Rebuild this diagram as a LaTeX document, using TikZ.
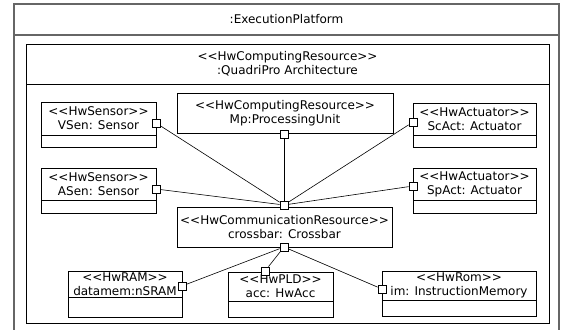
\documentclass[tikz,border=0pt]{standalone}
\usepackage{fontspec}
\setmainfont{DejaVu Sans}[Ligatures=TeXOff]
\usetikzlibrary{positioning}

\begin{document}
\begin{tikzpicture}[x=1pt, y=-1pt, node distance=0pt,
    part/.style={draw, line width=0.8pt, align=center, inner sep=0pt, outer sep=0pt,
        font=\fontsize{12}{14}\selectfont},
    slot/.style={draw, line width=0.8pt, inner sep=0pt, outer sep=0pt},
    port/.style={draw, fill=white, line width=0.8pt, minimum size=8pt, inner sep=0pt},
    wire/.style={line width=0.6pt}]

    \useasboundingbox (0,0) rectangle (561,329);

    % Frames
    \node[part, draw=black!60, line width=1.1pt, minimum width=545pt, minimum height=31pt,
        anchor=north west] (plat) at (14,4) {:ExecutionPlatform};
    \node[slot, draw=black!60, line width=1.1pt, minimum width=545pt, minimum height=320pt,
        below=of plat] (platb) {};
    \node[part, minimum width=523pt, minimum height=40pt, anchor=north west] (quadri) at (26,44)
        {<<HwComputingResource>>\\:QuadriPro Architecture};
    \node[slot, minimum width=523pt, minimum height=239pt, below=of quadri] (quadrib) {};

    % Nodes
    \node[part, minimum width=115pt, minimum height=33pt, anchor=north west] (vsen) at (41,102)
        {<<HwSensor>>\\VSen: Sensor};
    \node[slot, minimum width=115pt, minimum height=12pt, below=of vsen] (vsenb) {};

    \node[part, minimum width=115pt, minimum height=32pt, anchor=north west] (asen) at (41,168)
        {<<HwSensor>>\\ASen: Sensor};
    \node[slot, minimum width=115pt, minimum height=13pt, below=of asen] (asenb) {};

    \node[part, minimum width=123pt, minimum height=32pt, anchor=north west] (scact) at (413,103)
        {<<HwActuator>>\\ScAct: Actuator};
    \node[slot, minimum width=123pt, minimum height=12pt, below=of scact] (scactb) {};

    \node[part, minimum width=123pt, minimum height=32pt, anchor=north west] (spact) at (413,168)
        {<<HwActuator>>\\SpAct: Actuator};
    \node[slot, minimum width=123pt, minimum height=13pt, below=of spact] (spactb) {};

    \node[part, minimum width=216pt, minimum height=40pt, anchor=north west] (mp) at (177,93)
        {<<HwComputingResource>>\\Mp:ProcessingUnit};

    \node[part, minimum width=215pt, minimum height=40pt, anchor=north west] (crossbar) at (177,207)
        {<<HwCommunicationResource>>\\crossbar: Crossbar};

    \node[part, minimum width=114pt, minimum height=26pt, anchor=north west] (datamem) at (68,271)
        {<<HwRAM>>\\datamem:nSRAM};
    \node[slot, minimum width=114pt, minimum height=20pt, below=of datamem] (datamemb) {};

    \node[part, minimum width=105pt, minimum height=29pt, anchor=north west] (acc) at (228,272)
        {<<HwPLD>>\\acc: HwAcc};
    \node[slot, minimum width=105pt, minimum height=16pt, below=of acc] (accb) {};

    \node[part, minimum width=154pt, minimum height=29pt, anchor=north west] (im) at (382,271)
        {<<HwRom>>\\im: InstructionMemory};
    \node[slot, minimum width=154pt, minimum height=16pt, below=of im] (imb) {};

    % Ports
    \node[port] (vsenp) at (156,123) {};
    \node[port] (asenp) at (156,189) {};
    \node[port] (scactp) at (413,122) {};
    \node[port] (spactp) at (413,186) {};
    \node[port] (mpp) at (284,134) {};
    \node[port] (cbtop) at (284,205) {};
    \node[port] (cbbot) at (284,247) {};
    \node[port] (datamemp) at (182,286) {};
    \node[port] (accp) at (265,271) {};
    \node[port] (imp) at (382,289) {};

    % Wires
    \foreach \p in {vsenp, asenp, mpp, scactp, spactp}
        \draw[wire] (cbtop) -- (\p);
    \foreach \p in {datamemp, accp, imp}
        \draw[wire] (cbbot) -- (\p);

\end{tikzpicture}
\end{document}
